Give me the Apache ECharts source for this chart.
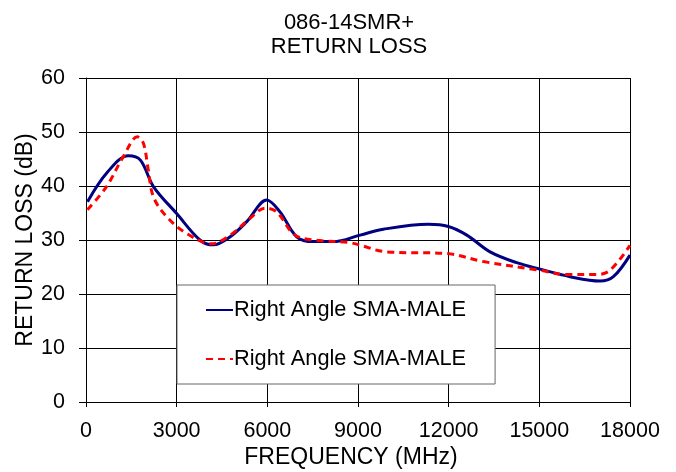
<!DOCTYPE html>
<html>
<head>
<meta charset="utf-8">
<script src="https://cdn.jsdelivr.net/npm/echarts@6/dist/echarts.min.js"></script>
<style>
html,body{margin:0;padding:0;background:#fff;}
#c{width:676px;height:472px;}
</style>
</head>
<body>
<div id="c"></div>
<script>
var titleLines = ['086-14SMR+', 'RETURN LOSS'];
var xTitle = 'FREQUENCY (MHz)';
var yTitle = 'RETURN LOSS (dB)';
var seriesNameA = 'Right Angle SMA-MALE';
var seriesNameB = 'Right Angle SMA-MALE\u200B';

var freqA = [50, 700, 1400, 1800, 2230, 3000, 3770, 4210, 4770, 5320, 5980, 6420, 6970, 7520, 8180, 9070, 9840, 11330, 11990, 12600, 13370, 14250, 15020, 16020, 17010, 17450, 18000];
var lossA = [37.1, 42.5, 45.6, 44.8, 39.9, 34.9, 30.0, 29.1, 30.6, 33.4, 37.4, 35.2, 30.6, 29.7, 29.7, 30.9, 32.0, 32.9, 32.5, 30.9, 27.8, 25.8, 24.6, 23.2, 22.4, 23.2, 27.2];

var freqB = [50, 680, 1230, 1700, 1900, 2060, 2230, 2670, 3330, 4160, 4770, 5430, 5920, 6310, 6920, 7740, 8740, 9950, 11940, 13150, 15020, 15910, 16900, 17340, 18000];
var lossB = [35.6, 39.9, 45.4, 49.1, 47.9, 43.0, 38.0, 34.3, 31.2, 29.3, 30.9, 34.0, 35.9, 35.2, 30.9, 29.9, 29.5, 27.8, 27.5, 26.0, 24.4, 23.6, 23.6, 24.4, 29.0];

var xTicks = [0, 3000, 6000, 9000, 12000, 15000, 18000];
var yTicks = [0, 10, 20, 30, 40, 50, 60];

function pairs(xs, ys){ return xs.map(function(x,i){ return [x, ys[i]]; }); }

var font = 'Arial, "Liberation Sans", sans-serif';
var chart = echarts.init(document.getElementById('c'));
chart.setOption({
  animation: false,
  backgroundColor: '#fff',
  title: {
    text: titleLines.join('\n'),
    left: 344, top: 6, textAlign: 'center',
    textStyle: {fontFamily: font, fontSize: 22, fontWeight: 'normal', color: '#000', lineHeight: 24}
  },
  grid: {left: 86, right: 46, top: 78, bottom: 70, show: false, containLabel: false, outerBoundsMode: 'none'},
  legend: {
    left: 177, top: 285, orient: 'vertical',
    data: [seriesNameA, seriesNameB],
    backgroundColor: '#fff', borderColor: '#666', borderWidth: 1,
    padding: [14, 29, 14, 28],
    itemGap: 27, itemWidth: 27, itemHeight: 14,
    itemStyle: {opacity: 0},
    textStyle: {fontFamily: font, fontSize: 21.75, color: '#000', padding: [0,0,0,-4]},
    formatter: function(n){ return n.replace('\u200B',''); }
  },
  xAxis: {
    type: 'value', min: xTicks[0], max: xTicks[xTicks.length-1], interval: 3000,
    name: xTitle, nameLocation: 'middle', nameGap: 44.5, nameMoveOverlap: false,
    nameTextStyle: {fontFamily: font, fontSize: 23, color: '#000', padding: [0, 14, 0, 0]},
    axisLine: {lineStyle: {color: '#000', width: 1}},
    axisTick: {show: true, length: 5, lineStyle: {color: '#000'}},
    axisLabel: {fontFamily: font, fontSize: 21.5, color: '#000', margin: 18,
      formatter: function(v){ return String(v); }},
    splitLine: {show: true, lineStyle: {color: '#000', width: 1}}
  },
  yAxis: {
    type: 'value', min: yTicks[0], max: yTicks[yTicks.length-1], interval: 10,
    name: yTitle, nameLocation: 'middle', nameGap: 49, nameRotate: 90, nameMoveOverlap: false,
    nameTextStyle: {fontFamily: font, fontSize: 23, color: '#000'},
    axisLine: {show: true, lineStyle: {color: '#000', width: 1}},
    axisTick: {show: true, length: 7, lineStyle: {color: '#000'}},
    axisLabel: {fontFamily: font, fontSize: 21.5, color: '#000', margin: 21},
    splitLine: {show: true, lineStyle: {color: '#000', width: 1}}
  },
  series: [
    {name: seriesNameA, type: 'line', smooth: 0.35, symbol: 'none', data: pairs(freqA, lossA),
     lineStyle: {color: '#000080', width: 3}, itemStyle: {color: '#000080'}, z: 3},
    {name: seriesNameB, type: 'line', smooth: 0.35, symbol: 'none', data: pairs(freqB, lossB),
     lineStyle: {color: '#ff0000', width: 3, type: [7, 5]}, itemStyle: {color: '#ff0000'}, z: 4}
  ]
});
</script>
</body>
</html>
